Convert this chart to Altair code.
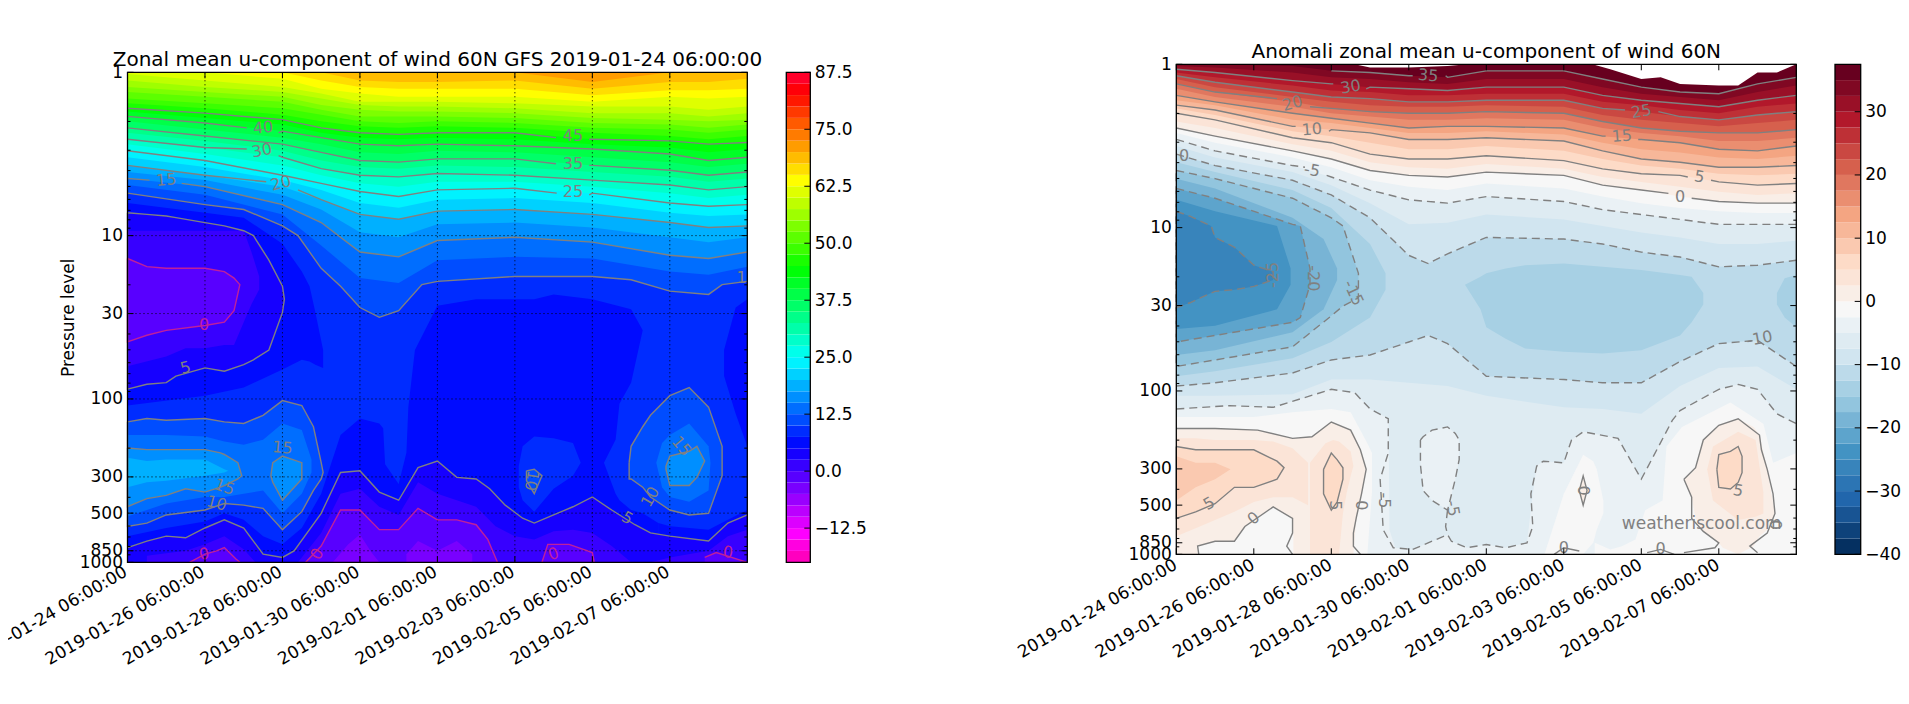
import altair as alt
import pandas as pd

# ---------- canvas geometry (plot-area placement only) ----------
W, H = 1893, 680
P1 = dict(x0=119.5, x1=739.3, top=64.3, bot=554.3, cx0=778.3, cx1=802.3, lab_dx=-6, lab_dy=1)
P2 = dict(x0=1168.3, x1=1788.3, top=56.3, bot=546.3, cx0=1827.0, cx1=1852.7, lab_dx=-5, lab_dy=2)

# ---------- text ----------
TITLE1 = "Zonal mean u-component of wind 60N GFS 2019-01-24 06:00:00"
TITLE2 = "Anomali zonal mean u-component of wind 60N"
YTITLE = "Pressure level"
WATERMARK = "weatheriscool.com"
TICK_DAYS = [0, 2, 4, 6, 8, 10, 12, 14]
TICK_LABELS = ["2019-01-24 06:00:00", "2019-01-26 06:00:00", "2019-01-28 06:00:00", "2019-01-30 06:00:00",
               "2019-02-01 06:00:00", "2019-02-03 06:00:00", "2019-02-05 06:00:00", "2019-02-07 06:00:00"]
P_TICKS = [1, 10, 30, 100, 300, 500, 850, 1000]
P_MINOR = [2, 3, 4, 5, 6, 7, 8, 9, 20, 40, 50, 60, 70, 80, 90, 200, 400, 600, 700, 800, 900]
CB1_TICKS = [-12.5, 0, 12.5, 25, 37.5, 50, 62.5, 75, 87.5]
CB2_TICKS = [-40, -30, -20, -10, 0, 10, 20, 30]

# All heights below are 100*log10(pressure in hPa); days are days since 2019-01-24 06:00.
# ---------- left panel: upper contours, one height per day in D1 ----------
D1 = [0, 2, 4, 5, 6, 7, 8, 10, 12, 14, 15, 16]
U10_d = [0, 2, 3, 4, 4.4, 5, 5.5, 6, 6.5, 7, 7.6, 8, 10, 12, 13, 14, 15, 15.35, 16]
U10 = [74, 81, 84, 94, 100, 120, 131, 144, 150, 146, 130, 128, 125, 125, 127, 134, 136, 130, 128]
U12 = [69, 75, 87, 106, 126, 129, 115, 113, 114, 122, 124, 119]
U15 = [65, 70, 81, 92, 110, 113, 103, 101, 104, 112, 114, 110]
U17 = [61, 66, 75, 84, 98, 101, 93, 92, 95, 101, 104, 101]
U20 = [57, 63, 70, 78, 87, 90, 85, 84, 87, 92, 95, 94]
U22 = [52, 58, 66, 72, 80, 83, 78, 77, 80, 86, 88, 87]
U25 = [48, 54, 63, 68, 73, 76, 72, 71, 74, 80, 82, 81]
U27 = [44, 50, 57, 63, 68, 70, 67, 67, 70, 74, 77, 75]
U30 = [41, 46, 52, 59, 63, 64, 62, 63, 66, 69, 72, 70]
U32 = [37, 42, 48, 54, 58, 59, 57, 58, 61, 64, 67, 65]
U35 = [34, 39, 44, 49, 54, 55, 53, 53, 57, 60, 63, 61]
U37 = [30, 35, 40, 44, 49, 50, 48, 49, 52, 55, 58, 56]
U40 = [27, 31, 36, 40, 44, 45, 44, 45, 47, 50, 54, 52]
U42 = [24, 28, 32, 37, 40, 41, 40, 41, 44, 46, 49, 47]
U45 = [22, 25, 29, 34, 37, 38, 37, 37, 41, 42, 44, 43]
U47 = [19, 22, 26, 30, 33, 34, 33, 34, 37, 39, 41, 39]
U50 = [16, 19, 22, 26, 30, 31, 30, 31, 34, 35, 37, 35]
U52 = [12, 15, 18, 23, 27, 27, 27, 28, 31, 32, 34, 32]
U55 = [9, 12, 15, 20, 23, 24, 24, 25, 28, 29, 30, 29]
U57 = [5, 9, 12, 16, 20, 21, 21, 22, 25, 25, 27, 25]
U60 = [1, 5, 9, 13, 18, 18, 18, 19, 21, 21, 23, 21]
U62 = [0, 0, 4, 10, 13, 15, 15, 15, 18, 15, 16, 15]
U65 = [0, 0, 0, 5, 9, 10, 10, 10, 14, 11, 11, 10]
U67 = [0, 0, 0, 0, 5, 6, 6, 5, 10, 6, 6, 4]
U70 = [0, 0, 0, 0, 0, 0, 0, 0, 6, 0, 0, 0]
UPPER1 = [(12.5, U12), (15, U15), (17.5, U17), (20, U20), (22.5, U22), (25, U25), (27.5, U27), (30, U30),
          (32.5, U32), (35, U35), (37.5, U37), (40, U40), (42.5, U42), (45, U45), (47.5, U47), (50, U50), (52.5, U52),
          (55, U55), (57.5, U57), (60, U60), (62.5, U62), (65, U65), (67.5, U67), (70, U70)]

# ---------- left panel: closed regions (days, upper edge, lower edge) ----------
a1_d = [0, 2, 3, 4, 4.5, 4.7, 4.85, 5.05]
a1_t = [80, 86, 89, 105, 122, 131, 147, 170]
a1_b = [204, 198, 193, 182, 176, 177, 179, 181]
a2_d = [0, 1, 2, 2.5, 3, 3.5, 4, 4.5, 5, 5.5, 6, 6.5, 6.6, 6.65, 7, 7.2, 7.25, 7.42, 8, 9, 10.5, 11, 12, 13, 13.3, 13.7]
a2_t = [284, 279, 275, 270, 274, 284, 289, 279, 258, 222, 212, 215, 218, 240, 252, 233, 205, 170, 143, 139, 139, 136, 139, 145, 158, 169]
a3_d = [12.3, 12.6, 12.7, 13, 13.3, 13.7, 14, 15, 15.5, 16]
a3_t = [239, 225, 203, 190, 158, 150, 140, 140, 140, 140]
a3_b = [239, 258, 262, 268, 270, 276, 278, 280, 274, 268]
a4_d = [13.7, 14, 15, 15.5, 16]
a4_t = [276, 278, 280, 274, 268]
a5_d = [15.4, 15.7, 16]
a5_t = [170, 144, 139]
a5_b = [186, 209, 229]

c5_d = [0, 0.5, 1, 1.5, 2, 2.5, 3, 3.5, 4, 4.3, 5, 5.5, 6, 6.5, 7, 7.5, 8, 8.5, 9, 9.35, 9.75, 10.2, 10.5, 11, 11.5, 12, 12.5, 13.1, 13.5, 14, 15, 15.5, 16]
c5_h = [291, 287, 284, 285, 279, 274, 279, 295, 297, 293, 270, 245, 244, 257, 262, 242, 238, 248, 249, 255, 265, 273, 276, 271, 266, 260, 268, 277, 282, 284, 287, 276, 271]
b2a_d = [0.5, 1.5, 2, 2.5, 3, 3.3]
b2a_t = [296, 293, 289, 284, 292, 300]
b2b_d = [4.4, 5, 5.5, 6, 6.5, 7, 7.5, 8, 8.5, 9, 9.5, 10, 10.5, 11, 11.5, 12, 12.5, 13, 13.5, 14, 15, 15.5, 16]
b2b_t = [300, 282, 258, 255, 266, 271, 251, 258, 262, 266, 278, 284, 286, 281, 280, 282, 290, 300, 300, 297, 293, 284, 280]

ul5_d = [0, 0.5, 1, 1.25, 2, 2.5, 3, 3.25, 3.65, 4, 4.05]
ul5_t = [86, 87, 88, 89, 92, 94, 97, 100, 115, 131, 139]
ul5_b = [194, 191, 190, 186, 181, 183, 179, 176, 170, 147, 139]
ul2_d = [0, 1, 1.5, 2, 2.5, 2.75, 3, 3.2, 3.4]
ul2_t = [97, 97, 97, 97, 97, 97, 97, 110, 125]
ul2_b = [180, 174, 169, 169, 167, 167, 153, 142, 133]
ul0_d = [0, 0.5, 1, 2, 2.5, 2.75, 2.9]
ul0_t = [114, 119, 120, 120, 122, 126, 130]
ul0_b = [165, 161, 158, 155, 153, 146, 130]

z0a_d = [4.6, 5, 5.5, 6, 6.5, 7, 7.5, 8, 8.5, 9, 9.3, 9.55]
z0a_t = [300, 290, 268, 268, 280, 280, 267, 274, 274, 277, 286, 300]
z0b_d = [1.6, 2, 2.3, 2.5, 2.8, 2.9]
z0b_t = [300, 295, 293, 291, 298, 300]
z0c_d = [10.7, 10.85, 11.4, 12, 12.05]
z0c_t = [300, 289, 289, 294, 300]
z0e_d = [14.9, 15.2, 16]
z0e_t = [297, 294, 300]
m5a_d = [5.3, 5.7, 6, 6.3, 6.5]
m5a_t = [300, 289, 283, 294, 300]
m5b_d = [7.2, 7.5, 8]
m5b_t = [295, 287, 293]
m5c_d = [8, 8.5, 8.9]
m5c_t = [293, 287, 295]

l10_d = [0, 0.5, 1, 2, 2.5, 3, 3.5, 4, 4.5, 4.8, 5, 5.05]
l10_t = [214, 212, 213, 212, 214, 215, 210, 201, 204, 217, 239, 245]
l10_b = [278, 276, 271, 268, 264, 265, 267, 280, 269, 256, 249, 245]
l12_d = [0, 1, 2, 2.5, 3, 3.5, 4, 4.5, 4.75]
l12_t = [222, 222, 223, 226, 228, 225, 215, 219, 237]
l12_b = [272, 264, 260, 260, 258, 256, 270, 258, 245]
l15_d = [0, 0.5, 1, 1.5, 2, 2.4, 2.5, 2.85, 2.95]
l15_t = [230, 231, 231, 231, 231, 233, 234, 239, 247]
l15_b = [266, 261, 259, 255, 257, 254, 253, 249, 247]
m15_d = [3.7, 3.75, 4, 4.5]
m15_t = [247, 239, 235, 239]
m15_b = [247, 251, 262, 249]
l17_d = [0, 0.5, 1, 2, 2.5, 2.6]
l17_t = [236, 238, 237, 237, 243, 244]
l17_b = [254, 251, 250, 247, 245, 244]

r10_d = [12.95, 13, 13.3, 13.5, 14, 14.5, 15, 15.35]
r10_t = [239, 229, 217, 210, 198, 193, 205, 229]
r10_b = [249, 249, 254, 260, 268, 271, 270, 247]
r12_d = [13.65, 13.8, 14, 14.5, 15, 15.05]
r12_t = [239, 227, 222, 215, 229, 239]
r12_b = [239, 254, 260, 263, 256, 239]
r15_d = [13.9, 14, 14.5, 14.7, 14.9]
r15_t = [241, 235, 232, 229, 238]
r15_b = [243, 253, 253, 248, 238]
k7_d = [10.1, 10.2, 10.5, 11, 11.5, 11.7]
k7_t = [241, 229, 223, 224, 227, 239]
k7_b = [254, 262, 269, 255, 247, 239]
k10_d = [10.3, 10.5, 10.7]
k10_t = [244, 243, 247]
k10_b = [250, 258, 247]

# ---------- left panel: labels on contours ----------
L1_d = [3.5, 3.47, 3.96, 1, 11.5, 11.5, 11.5, 15.85, 1.98, 1.5, 4, 2.5, 2.3, 1.98, 4.9, 10.43, 12.9, 13.5, 14.3, 11, 15.5]
L1_h = [34, 48, 68, 66, 39, 56, 73, 126, 155, 181, 230, 254, 264, 295, 295, 250, 273, 260, 229, 295, 294]
L1_t = ["40", "30", "20", "15", "45", "35", "25", "1", "0", "5", "15", "15", "10", "0", "0", "10", "5", "10", "15", "0", "0"]
L1_a = [355, 350, 345, 355, 0, 0, 0, 0, 0, 345, 5, 20, 15, 350, 300, 100, 30, 300, 50, 340, 5]

# ---------- right panel: upper contours ----------
D2 = [0, 1, 3, 4, 5, 6, 7, 8, 10, 11, 12, 13, 14, 15, 16]
V35 = [0, 0, 1, 4, 5, 7, 8, 4, 4, 9, 14, 17, 18, 12, 8]
V32 = [1, 2, 5, 8, 9, 11, 12, 9, 9, 14, 18, 20, 22, 17, 13]
V30 = [3, 5, 10, 12, 14, 15, 16, 14, 14, 19, 22, 24, 26, 22, 19]
V27 = [5, 8, 13, 16, 17, 19, 19, 18, 18, 23, 25, 28, 30, 26, 24]
V25 = [7, 11, 17, 20, 21, 23, 23, 22, 22, 27, 29, 32, 34, 31, 29]
V22 = [9, 14, 20, 23, 25, 26, 26, 25, 26, 31, 34, 36, 38, 36, 34]
V20 = [12, 17, 23, 27, 29, 30, 30, 29, 30, 35, 39, 41, 42, 42, 40]
V17 = [15, 20, 26, 30, 32, 34, 34, 33, 34, 39, 42, 44, 47, 47, 45]
V15 = [19, 23, 30, 33, 36, 39, 38, 38, 39, 44, 46, 48, 52, 53, 50]
V12 = [22, 25, 34, 36, 39, 42, 42, 41, 43, 48, 52, 54, 57, 58, 56]
V10 = [25, 28, 38, 40, 42, 46, 46, 45, 47, 53, 58, 60, 63, 63, 62]
V7 = [27, 31, 41, 44, 48, 52, 52, 50, 53, 58, 62, 64, 67, 68, 67]
V5 = [30, 34, 45, 48, 55, 58, 58, 56, 59, 64, 67, 68, 72, 74, 73]
V2 = [35, 39, 49, 53, 60, 63, 64, 61, 64, 69, 72, 75, 78, 80, 79]
V0 = [39, 44, 53, 58, 65, 68, 69, 66, 68, 74, 77, 81, 84, 85, 85]
Vm2 = [42, 48, 57, 63, 71, 75, 77, 73, 76, 81, 85, 88, 90, 91, 91]
Vm5 = [46, 53, 62, 69, 77, 83, 85, 81, 84, 89, 92, 95, 98, 98, 98]
Vm7 = [50, 57, 66, 74, 85, 98, 97, 92, 95, 99, 103, 106, 110, 110, 108]
Vm10_d = [0, 1, 3, 4, 5, 6, 6.5, 7, 8, 10, 11, 12, 13, 14, 15, 16]
Vm10 = [55, 62, 71, 80, 94, 117, 122, 116, 106, 107, 110, 115, 118, 124, 123, 120]
UPPER2 = [(-5, Vm5), (-2.5, Vm2), (0, V0), (2.5, V2), (5, V5), (7.5, V7), (10, V10), (12.5, V12), (15, V15), (17.5, V17),
          (20, V20), (22.5, V22), (25, V25), (27.5, V27), (30, V30), (32.5, V32), (35, V35)]

# ---------- right panel: regions ----------
w1_d = [4.6, 5, 6, 7, 7.5]
w1_h = [0, 2, 2, 1, 0]
w2_d = [10.74, 11.2, 12, 12.5, 13, 14, 14.5, 15, 15.5, 16]
w2_h = [0, 3, 9, 8, 12, 13, 13, 5, 5, 0]
lowm7_d = [0, 1, 3, 4, 5, 6, 7, 8, 10, 11, 12, 13, 14, 15, 16]
lowm7_h = [203, 203, 202, 193, 193, 195, 197, 203, 210, 211, 214, 197, 186, 185, 199]
lowm10_h = [197, 195, 189, 181, 178, 170, 166, 171, 191, 193, 195, 195, 182, 171, 169, 185]
c12_d = [0, 1, 3, 4, 5, 5.4]
c12_t = [60, 66, 77, 88, 110, 128]
c12_b = [191, 188, 180, 170, 155, 138]
c15_d = [0, 1, 3, 4, 4.3, 4.7]
c15_t = [65, 70, 82, 94, 99, 128]
c15_b = [185, 181, 173, 154, 148, 143]
c17_d = [0, 1, 3, 3.8, 4.15]
c17_t = [70, 76, 94, 107, 125]
c17_b = [178, 175, 164, 150, 132]
c20_d = [0, 1, 3, 3.2, 3.45]
c20_t = [76, 82, 98, 99, 125]
c20_b = [170, 166, 158, 155, 135]
c22_d = [0, 1, 2.6, 2.95]
c22_t = [83, 90, 99, 125]
c22_b = [162, 160, 150, 135]
c25_d = [0, 0.35, 0.9, 1, 1.5, 2, 2.5]
c25_t = [90, 93, 99, 106, 112, 123, 127]
c25_b = [149, 146, 140, 139, 138, 136, 132]
mid_d = [7.45, 7.85, 8, 8.5, 9, 10, 11, 12, 13, 13.3, 13.6]
mid_t = [135, 130, 128, 125, 123, 122, 124, 126, 129, 130, 140]
mid_b = [135, 150, 161, 168, 174, 176, 177, 175, 166, 158, 147]
rgt_d = [15.5, 15.7, 16]
rgt_t = [140, 131, 129]
rgt_b = [147, 155, 161]

f5_d = [0, 1.38, 2.5, 4, 4.6, 5, 5.48, 5.5, 5.65, 6.1, 7, 7.1, 7.5, 8, 8.5, 9.05, 9.2, 9.3, 9.47, 10, 10.2, 10.5, 11.4, 12, 12.8, 13, 14, 14.5, 15, 15.5, 16]
f5_t = [211, 209, 210, 199, 201, 211, 217, 285, 296, 297, 288, 292, 296, 294, 296, 293, 263, 246, 243, 244, 230, 225, 229, 254, 218, 212, 199, 196, 199, 214, 220]
loop_d = [6.3, 6.37, 6.6, 7, 7.2, 7.3]
loop_t = [230, 228, 224, 222, 226, 230]
loop_b = [245, 261, 267, 273, 254, 242]
g2_d = [0, 2, 3, 4, 4.5, 4.93, 5.05]
g2_t = [216, 216, 213, 211, 213, 232, 238]
g2_b = [300, 300, 300, 300, 300, 300, 262]
g0_d = [0, 1, 2.1, 3, 3.5, 4, 4.5, 4.57, 4.65, 4.78, 4.9]
g0_t = [223, 223, 224, 229, 228, 219, 224, 226, 230, 238, 248]
g0_b = [300, 300, 300, 300, 300, 300, 300, 300, 277, 263, 248]
h2a_d = [0, 0.5, 1, 1.5, 2, 2.5, 3, 3.4]
h2a_t = [229, 229, 230, 230, 230, 231, 235, 244]
h2a_b = [289, 284, 279, 274, 268, 265, 265, 270]
h2b_d = [3.45, 3.85, 4.05, 4.2, 4.3, 4.4, 4.5, 4.57]
h2b_t = [244, 232, 230, 231, 233, 235, 237, 246]
h2b_b = [300, 300, 300, 300, 275, 262, 252, 246]
h5a_d = [0, 0.5, 1, 1.5, 2, 2.6, 2.78]
h5a_t = [234, 236, 236, 236, 236, 243, 247]
h5a_b = [278, 274, 269, 259, 259, 254, 247]
h5b_d = [3.8, 4, 4.15, 4.3]
h5b_t = [248, 238, 242, 247]
h5b_b = [263, 273, 268, 254]
h7_d = [0, 0.5, 1, 1.4]
h7_t = [240, 244, 244, 248]
h7_b = [267, 259, 254, 248]
inn_d = [0.55, 1, 1.5, 1.77, 2.5, 3, 3.02]
inn_t = [295, 292, 292, 283, 271, 278, 287]
q1_d = [9.5, 9.65, 10, 10.5, 10.76, 10.85, 11.02]
q1_t = [300, 289, 263, 239, 243, 248, 267]
q1_b = [300, 300, 300, 300, 293, 285, 275]
q2_d = [10.8, 11.2, 11.5, 11.85, 12.1, 12.55, 12.65, 13.05, 14.3, 15.15, 15.4, 16]
q2_t = [293, 297, 295, 291, 273, 267, 234, 222, 207, 220, 244, 238]
q0_d = [13.1, 13.3, 13.4, 13.6, 14, 14.1, 14.5, 14.9, 15.05, 15.25, 15.45]
q0_t = [254, 250, 247, 230, 221, 220, 217, 222, 227, 248, 275]
q0_b = [254, 265, 278, 286, 293, 296, 300, 295, 289, 285, 275]
q25_d = [13.7, 13.85, 14.5, 14.95, 15.15]
q25_t = [248, 234, 225, 230, 262]
q25_b = [248, 267, 279, 277, 275]
q5_d = [13.95, 14, 14.3, 14.5, 14.6]
q5_t = [248, 239, 237, 234, 240]
q5_b = [248, 259, 260, 256, 250]
q0s_d = [10.4, 10.5, 10.6]
q0s_t = [261, 252, 261]
q0s_b = [261, 270, 261]

# right panel line paths that are not region edges
lm5_d = [0, 1.38, 2.5, 4, 4.6, 5, 5.47, 5.47, 5.26, 5.34, 5.6, 6.1, 7, 7.1, 7.5, 8, 8.5, 9.05, 9.2, 9.15, 9.3, 9.47, 10, 10.2, 10.5, 11.4, 12, 12.8, 13, 14, 14.5, 15, 15.5, 16]
lm5_h = [211, 209, 210, 199, 201, 211, 217, 238, 254, 285, 296, 297, 288, 292, 296, 294, 296, 293, 283, 263, 246, 243, 244, 230, 225, 229, 254, 218, 212, 199, 196, 199, 214, 220]
neck_d = [7, 6.95, 7]
neck_h = [273, 283, 288]
l0a_d = [0, 1, 2.1, 3, 3.5, 4, 4.5, 4.75, 4.9, 4.78, 4.65, 4.57, 4.57, 4.75]
l0a_h = [223, 223, 224, 229, 228, 219, 224, 236, 248, 263, 277, 287, 295, 300]
l0b_d = [0.58, 0.55, 1, 1.5, 1.77, 2.5, 3, 3, 2.85, 3]
l0b_h = [300, 295, 292, 292, 283, 271, 278, 287, 295, 300]
l0c_d = [13.1, 13.4, 13.6, 14, 14.5, 15.05, 15.1, 15.25, 15.4, 15.45, 15.25, 14.8, 15]
l0c_h = [254, 247, 230, 221, 217, 227, 236, 248, 263, 275, 287, 295, 299]
l0d_d = [13.1, 13.3, 13.3, 13.6, 14, 13.9, 13.1]
l0d_h = [254, 265, 278, 286, 293, 296, 299]
l0e_d = [9.75, 10, 10.4]
l0e_h = [300, 296, 298]
l0f_d = [12.15, 12.5, 12.85]
l0f_h = [299, 297, 300]

L2_d = [6.5, 4.5, 3, 3.5, 3.5, 0.2, 2.5, 3.53, 4.57, 12, 11.5, 13.5, 13, 15.05, 0.85, 2, 4.1, 4.77, 5.35, 7.13, 10.5, 14.5, 10, 12.5, 15.45]
L2_h = [7, 14, 24, 40, 65, 56, 129, 131, 140, 29, 44, 69, 81, 168, 269, 278, 270, 270, 267, 272, 261, 261, 296, 297, 282]
L2_t = ["35", "30", "20", "10", "-5", "0", "-25", "-20", "-15", "25", "15", "5", "0", "-10", "5", "0", "5", "0", "-5", "-5", "0", "5", "0", "0", "0"]
L2_a = [5, 350, 345, 355, 10, 0, 270, 90, 65, 350, 355, 10, 0, 350, 330, 320, 90, 90, 90, 80, 90, 10, 0, 0, 90]


# ---------- colour maps ----------
def lerp_table(table, f):
    for (a, *ca), (b, *cb) in zip(table, table[1:]):
        if f <= b:
            t = (f - a) / (b - a)
            return [u + (v - u) * t for u, v in zip(ca, cb)]
    return table[-1][1:]


def hexcol(rgb):
    return "#%02x%02x%02x" % tuple(int(round(c * 255)) for c in rgb)


GIST = [(0, 1, 0, .16), (.03, 1, 0, 0), (.215, 1, 1, 0), (.4, 0, 1, 0), (.586, 0, 1, 1), (.77, 0, 0, 1), (.954, 1, 0, 1), (1, 1, 0, .75)]
RDBU = ["053061", "2166ac", "4393c3", "92c5de", "d1e5f0", "f7f7f7", "fddbc7", "f4a582", "d6604d", "b2182b", "67001f"]
RDBU_T = [(i / 10, *[int(h[j:j + 2], 16) / 255 for j in (0, 2, 4)]) for i, h in enumerate(RDBU)]
LEV1 = [-20 + 2.5 * i for i in range(43)]
LEV2 = [-40 + 2.5 * i for i in range(31)]
COL1 = [hexcol(lerp_table(GIST, 1 - i / 42)) for i in range(43)]
COL2 = [hexcol(lerp_table(RDBU_T, i / 30)) for i in range(31)] + ["#ffffff"]
SCALE1 = alt.Scale(type="threshold", domain=LEV1[1:], range=COL1)
SCALE2 = alt.Scale(type="threshold", domain=LEV2[1:] + [37.5], range=COL2)


def prs(h):
    return 10 ** (h / 100)


# ---------- build tables ----------
def regions(items):
    rows = []
    for n, (band, d, t, b) in enumerate(items):
        for dd, tt, bb in zip(d, t, b):
            rows.append(dict(s=f"s{n:03d}", band=band, d=dd, p=prs(tt), p2=prs(bb)))
    return pd.DataFrame(rows)


def paths(items):
    rows = []
    for n, (d, h) in enumerate(items):
        for i, (dd, hh) in enumerate(zip(d, h)):
            rows.append(dict(l=f"l{n:03d}", i=i, d=dd, p=prs(hh)))
    return pd.DataFrame(rows)


def ring(d, t, b):
    return list(d) + list(d[::-1]) + [d[0]], list(t) + list(b[::-1]) + [t[0]]


def z(v):
    return [0] * len(v)


def bot(v):
    return [300] * len(v)


def cut(d, h, a, ha, b, hb):
    """Two pieces of a contour with the gap the picture leaves round its label: ends (a, ha) and (b, hb)."""
    left = [(x, y) for x, y in zip(d, h) if x < a] + [(a, ha)]
    right = [(b, hb)] + [(x, y) for x, y in zip(d, h) if x > b]
    return [tuple(zip(*left)), tuple(zip(*right))]


ALL = [0, 16]
R1 = [(7.5, ALL, [0, 0], [300, 300]),
      (5, a1_d, a1_t, a1_b), (5, a2_d, a2_t, bot(a2_d)), (7.5, a3_d, a3_t, a3_b), (5, a4_d, a4_t, bot(a4_d)), (5, a5_d, a5_t, a5_b),
      (7.5, k7_d, k7_t, k7_b), (10, U10_d, z(U10), U10)]
R1 += [(lv, D1, z(r), r) for lv, r in UPPER1]
R1 += [(2.5, c5_d, c5_h, bot(c5_d)), (0, b2a_d, b2a_t, bot(b2a_d)), (0, b2b_d, b2b_t, bot(b2b_d)),
       (2.5, ul5_d, ul5_t, ul5_b), (0, ul2_d, ul2_t, ul2_b), (-2.5, ul0_d, ul0_t, ul0_b),
       (-2.5, z0a_d, z0a_t, bot(z0a_d)), (-2.5, z0b_d, z0b_t, bot(z0b_d)), (-2.5, z0c_d, z0c_t, bot(z0c_d)), (-2.5, z0e_d, z0e_t, bot(z0e_d)),
       (-5, m5a_d, m5a_t, bot(m5a_d)), (-5, m5b_d, m5b_t, bot(m5b_d)), (-5, m5c_d, m5c_t, bot(m5c_d)),
       (10, l10_d, l10_t, l10_b), (12.5, l12_d, l12_t, l12_b), (15, l15_d, l15_t, l15_b), (15, m15_d, m15_t, m15_b), (17.5, l17_d, l17_t, l17_b),
       (10, r10_d, r10_t, r10_b), (12.5, r12_d, r12_t, r12_b), (15, r15_d, r15_t, r15_b), (10, k10_d, k10_t, k10_b)]

G1 = [(U10_d, U10)]
G1 += cut(D1, U15, 0.57, 66, 1.4, 68) + cut(D1, U20, 3.58, 67, 4.4, 72) + cut(D1, U25, 11.08, 74, 11.92, 75)
G1 += cut(D1, U30, 3.08, 47, 3.9, 51) + cut(D1, U35, 11.06, 56, 11.92, 57) + cut(D1, U40, 3.08, 34, 3.9, 37) + cut(D1, U45, 11.06, 40, 11.92, 41)
G1 += [(c5_d, c5_h), ring(ul5_d, ul5_t, ul5_b), ring(l10_d, l10_t, l10_b), ring(l15_d, l15_t, l15_b), ring(m15_d, m15_t, m15_b),
       ring(r10_d, r10_t, r10_b), ring(r15_d, r15_t, r15_b), ring(k10_d, k10_t, k10_b)]
M1 = [ring(ul0_d, ul0_t, ul0_b), (z0a_d, z0a_t), (z0b_d, z0b_t), (z0c_d, z0c_t), (z0e_d, z0e_t)]

R2 = [(-7.5, ALL, [0, 0], [300, 300]),
      (-10, lowm7_d, Vm7, lowm7_h), (-12.5, Vm10_d, Vm10, lowm10_h),
      (-15, c12_d, c12_t, c12_b), (-15, mid_d, mid_t, mid_b), (-15, rgt_d, rgt_t, rgt_b),
      (-17.5, c15_d, c15_t, c15_b), (-20, c17_d, c17_t, c17_b), (-22.5, c20_d, c20_t, c20_b), (-25, c22_d, c22_t, c22_b), (-27.5, c25_d, c25_t, c25_b)]
R2 += [(lv, D2, z(r), r) for lv, r in UPPER2]
R2 += [(40, w1_d, z(w1_h), w1_h), (40, w2_d, z(w2_h), w2_h),
       (-5, f5_d, f5_t, bot(f5_d)), (-5, loop_d, loop_t, loop_b),
       (-2.5, g2_d, g2_t, g2_b), (0, g0_d, g0_t, g0_b), (2.5, h2a_d, h2a_t, h2a_b), (2.5, h2b_d, h2b_t, h2b_b),
       (5, h5a_d, h5a_t, h5a_b), (5, h5b_d, h5b_t, h5b_b), (7.5, h7_d, h7_t, h7_b), (-2.5, inn_d, inn_t, bot(inn_d)),
       (-2.5, q1_d, q1_t, q1_b), (-2.5, q2_d, q2_t, bot(q2_d)), (0, q0_d, q0_t, q0_b), (2.5, q25_d, q25_t, q25_b),
       (5, q5_d, q5_t, q5_b), (0, q0s_d, q0s_t, q0s_b)]

S2 = cut(D2, V0, 12.7, 79, 13.3, 82) + cut(D2, V5, 13.2, 69, 13.8, 71) + cut(D2, V10, 3.08, 38, 3.94, 41) + cut(D2, V15, 11.08, 44, 11.92, 46)
S2 += cut(D2, V20, 2.6, 21, 3.45, 26) + cut(D2, V25, 11.58, 28, 12.44, 29) + cut(D2, V30, 4.05, 12, 4.9, 15)
S2 += cut(D2[3:], V35[3:], 6.1, 7, 6.95, 7)
S2 += [(l0a_d, l0a_h), (l0b_d, l0b_h), (l0c_d, l0c_h), (l0d_d, l0d_h), (l0e_d, l0e_h), (l0f_d, l0f_h),
       ring(h5a_d, h5a_t, h5a_b), ring(h5b_d, h5b_t, h5b_b), ring(q5_d, q5_t, q5_b), ring(q0s_d, q0s_t, q0s_b)]
N2 = cut(D2, Vm5, 3.32, 63, 3.88, 68)
N2 += [(Vm10_d, Vm10), (Vm10_d, lowm10_h), (lm5_d, lm5_h), ring(loop_d, loop_t, loop_b), (neck_d, neck_h),
       ring(c15_d, c15_t, c15_b), ring(c20_d, c20_t, c20_b), ring(c25_d, c25_t, c25_b)]


# ---------- encoders ----------
LF = "DejaVu Sans"
FS = 17


def X(P, axis=None):
    return alt.X("d:Q", scale=alt.Scale(domain=[0, 16], range=[P["x0"], P["x1"]], nice=False, zero=False), axis=axis)


def Y(P, axis=None):
    return alt.Y("p:Q", scale=alt.Scale(type="log", domain=[1, 1000], range=[P["top"], P["bot"]], nice=False),
                 axis=axis, stack=False)


def xaxis(P):
    expr = "[" + ",".join(f"'{s}'" for s in TICK_LABELS) + "][datum.value/2]"
    return alt.Axis(orient="bottom", offset=P["bot"] - H + P["lab_dy"], values=TICK_DAYS, labelExpr=expr, labelAngle=-30, labelAlign="right",
                    labelBaseline="top", labelPadding=0, labelOffset=P["lab_dx"], labelFontSize=FS, labelFont=LF, labelColor="black", labelOverlap=False,
                    labelBound=False, labelFlush=False, labelLimit=400, ticks=False, domain=False, grid=False, title=None)


def yaxis(P, title=None):
    kw = dict(title=title, titleFontSize=FS, titleFont=LF, titleFontWeight="normal", titleColor="black", titlePadding=2) if title else dict(title=None)
    return alt.Axis(orient="left", offset=-P["x0"], values=P_TICKS, labelExpr="datum.value", labelFontSize=FS, labelFont=LF, labelColor="black",
                    labelPadding=5, labelOverlap=False, labelBound=False, labelFlush=False, ticks=False, domain=False, grid=False, **kw)


def panel(P, R, scale, ytitle):
    df = regions(R)
    return [alt.Chart(df).mark_area(orient="vertical", interpolate="linear", clip=True).encode(
        x=X(P, xaxis(P)), y=Y(P, yaxis(P, ytitle)), y2=alt.Y2("p2:Q"),
        color=alt.Color("band:Q", scale=scale, legend=None), detail="s:N")]


def lines(P, items, color, dash=None, width=1.4):
    kw = dict(strokeDash=dash) if dash else {}
    return alt.Chart(paths(items)).mark_line(color=color, strokeWidth=width, interpolate="linear", **kw).encode(
        x=X(P), y=Y(P), detail="l:N", order="i:Q")


def labels(P, d, h, t, a, color):
    df = pd.DataFrame(dict(d=d, p=[prs(v) for v in h], t=t, a=a, c=color))
    return alt.Chart(df).mark_text(font=LF, fontSize=16, align="center", baseline="middle").encode(
        x=X(P), y=Y(P), text="t:N", angle=alt.Angle("a:Q", scale=None), color=alt.Color("c:N", scale=None, legend=None))


def furniture(P):
    out = []
    one = pd.DataFrame({"a": [0]})
    dfx = pd.DataFrame({"d": TICK_DAYS})
    for y1, y2 in ((P["bot"] - 6, P["bot"]), (P["top"], P["top"] + 6)):
        out.append(alt.Chart(dfx).mark_rule(color="black", strokeWidth=1).encode(x=X(P), y=alt.value(y1), y2=alt.value(y2)))
    for plist, ln in ((P_TICKS, 6), (P_MINOR, 3)):
        dfy = pd.DataFrame({"p": plist})
        for x1, x2 in ((P["x0"], P["x0"] + ln), (P["x1"] - ln, P["x1"])):
            out.append(alt.Chart(dfy).mark_rule(color="black", strokeWidth=1).encode(y=Y(P), x=alt.value(x1), x2=alt.value(x2)))
    out.append(alt.Chart(one).mark_rect(fillOpacity=0, stroke="black", strokeWidth=1.3).encode(
        x=alt.value(P["x0"]), x2=alt.value(P["x1"]), y=alt.value(P["top"]), y2=alt.value(P["bot"])))
    return out


def grid(P):
    dfx = pd.DataFrame({"d": TICK_DAYS[1:]})
    dfy = pd.DataFrame({"p": P_TICKS[1:-1]})
    return [alt.Chart(dfx).mark_rule(color="black", strokeWidth=1, strokeDash=[1, 3]).encode(x=X(P), y=alt.value(P["top"]), y2=alt.value(P["bot"])),
            alt.Chart(dfy).mark_rule(color="black", strokeWidth=1, strokeDash=[1, 3]).encode(y=Y(P), x=alt.value(P["x0"]), x2=alt.value(P["x1"]))]


def colorbar(P, levels, step, scale, ticks, fmt):
    dom = [levels[0], levels[-1] + step]
    df = pd.DataFrame({"v": levels, "v2": [v + step for v in levels], "band": levels})
    yy = alt.Y("v:Q", scale=alt.Scale(domain=dom, range=[P["bot"], P["top"]], nice=False, zero=False),
               axis=alt.Axis(orient="right", offset=P["cx1"] - W, values=ticks, format=fmt, labelFontSize=FS, labelFont=LF, labelColor="black", labelPadding=4,
                             labelOverlap=False, labelBound=False, labelFlush=False, ticks=False, domain=False, grid=False, title=None))
    bars = alt.Chart(df).mark_rect().encode(x=alt.value(P["cx0"]), x2=alt.value(P["cx1"]), y=yy, y2=alt.Y2("v2:Q"),
                                            color=alt.Color("band:Q", scale=scale, legend=None))
    yy2 = alt.Y("v:Q", scale=alt.Scale(domain=dom, range=[P["bot"], P["top"]], nice=False, zero=False), axis=None)
    tks = alt.Chart(pd.DataFrame({"v": ticks})).mark_rule(color="black", strokeWidth=1).encode(
        y=yy2, x=alt.value(P["cx1"] - 6), x2=alt.value(P["cx1"]))
    frame = alt.Chart(pd.DataFrame({"a": [0]})).mark_rect(fillOpacity=0, stroke="black", strokeWidth=1.3).encode(
        x=alt.value(P["cx0"]), x2=alt.value(P["cx1"]), y=alt.value(P["top"]), y2=alt.value(P["bot"]))
    return [bars, tks, frame]


def title(txt, x, y):
    return alt.Chart(pd.DataFrame({"a": [0]})).mark_text(font=LF, fontSize=20, align="center", baseline="alphabetic", color="black").encode(
        x=alt.value(x), y=alt.value(y), text=alt.value(txt))


layers = []
layers += panel(P1, R1, SCALE1, YTITLE)
layers += grid(P1)
layers += [lines(P1, G1, "#808080"), lines(P1, M1, "#c0209a")]
col1 = ["#c0209a" if t == "0" else "#808080" for t in L1_t]
layers += [labels(P1, L1_d, L1_h, L1_t, L1_a, col1)]
layers += furniture(P1)
layers += colorbar(P1, LEV1, 2.5, SCALE1, CB1_TICKS, ".1f")
layers += [title(TITLE1, (P1["x0"] + P1["x1"]) / 2, 57.5)]

layers += panel(P2, R2, SCALE2, None)
layers += [lines(P2, S2, "#808080"), lines(P2, N2, "#808080", dash=[8, 5])]
layers += [labels(P2, L2_d, L2_h, L2_t, L2_a, ["#808080"] * len(L2_t))]
layers += furniture(P2)
layers += colorbar(P2, LEV2, 2.5, SCALE2, CB2_TICKS, "d")
layers += [title(TITLE2, (P2["x0"] + P2["x1"]) / 2, 50)]
layers += [alt.Chart(pd.DataFrame({"a": [0]})).mark_text(font=LF, fontSize=17, align="center", baseline="alphabetic", color="#808080").encode(
    x=alt.value(1693.7), y=alt.value(521), text=alt.value(WATERMARK))]

chart = alt.layer(*layers).resolve_scale(x="independent", y="independent", color="independent", angle="independent").resolve_axis(
    x="independent", y="independent").properties(
    width=W, height=H, autosize=alt.AutoSizeParams(type="none"), padding=0, background="white").configure_view(stroke=None)

chart.save("out.html", embed_options={"renderer": "svg", "actions": False})
